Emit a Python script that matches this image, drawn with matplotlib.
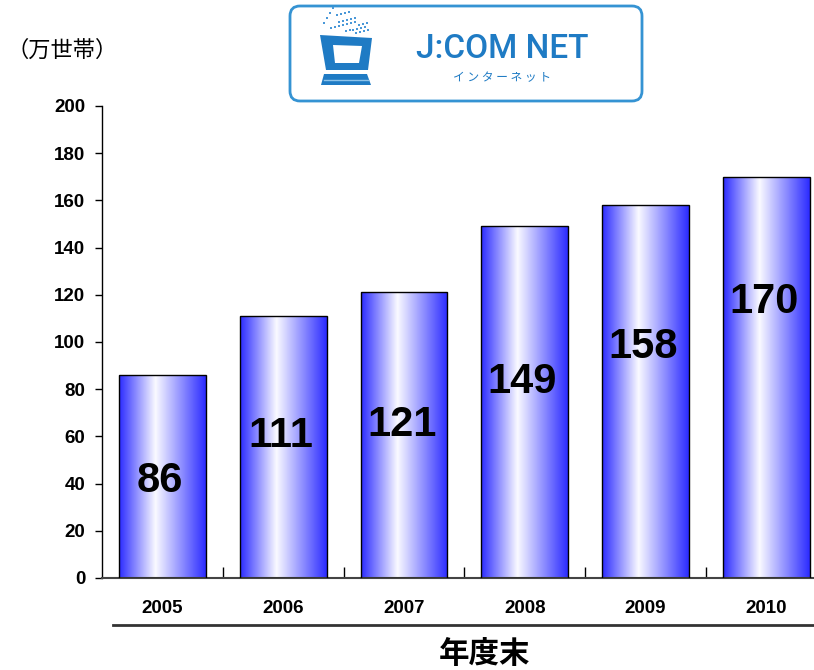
import numpy as np
import matplotlib
matplotlib.use('Agg')
import matplotlib.pyplot as plt
from matplotlib.colors import LinearSegmentedColormap
from matplotlib.patches import FancyBboxPatch, Polygon
from matplotlib.lines import Line2D

plt.rcParams['font.family'] = ['Liberation Sans', 'Noto Sans CJK JP', 'DejaVu Sans']

years = ['2005', '2006', '2007', '2008', '2009', '2010']
households = [86, 111, 121, 149, 158, 170]
# height (data units) where each value label is centred
label_y = [41, 60, 65, 83, 98, 117]

W, H = 814, 670
fig = plt.figure(figsize=(W/100, H/100), dpi=100)

# main axes, right edge runs past the figure like the original
ax = fig.add_axes([102/W, (H-578)/H, 724.8/W, 472/H])
x = np.arange(len(years))
bars = ax.bar(x, households, width=0.72, facecolor='none', edgecolor='black', linewidth=1.0, zorder=3)

blue = (0.17, 0.17, 1.0)
cmap = LinearSegmentedColormap.from_list('barblue', [(0, blue), (0.42, (0.98, 0.98, 1.0)), (1, blue)])
grad = np.linspace(0, 1, 256).reshape(1, -1)
for b in bars:
    x0, w, h = b.get_x(), b.get_width(), b.get_height()
    im = ax.imshow(grad, cmap=cmap, aspect='auto', extent=(x0, x0+w, 0, h), zorder=2, interpolation='bilinear')
    im.set_clip_path(b)

for xi, v, ly in zip(x, households, label_y):
    ax.text(xi - 0.02, ly, str(v), ha='center', va='center', fontsize=30, fontweight='bold', zorder=4)

ax.set_xlim(-0.5, len(years)-0.5)
ax.set_ylim(0, 200)
ax.set_yticks(np.arange(0, 201, 20))
ax.set_xticks(x)
ax.set_xticklabels(years, fontsize=13.5, fontweight='bold')
ax.set_xticks(np.arange(0.5, len(years)-0.5, 1), minor=True)
ax.tick_params(axis='x', which='major', length=0, pad=16)
ax.tick_params(axis='x', which='minor', direction='in', length=8, width=1)
ax.tick_params(axis='y', direction='out', length=5, width=1, labelsize=13.5, pad=7)
for lab in ax.get_yticklabels():
    lab.set_fontweight('bold')
for s in ['top', 'right']:
    ax.spines[s].set_visible(False)
ax.spines['left'].set_linewidth(1.0)
ax.spines['bottom'].set_linewidth(1.5)
ax.spines['bottom'].set_color('#444444')

# rule under the year labels
fig.add_artist(Line2D([113/W, 1.0], [(H-625)/H]*2, color='#333333', linewidth=2))
jp = ['Noto Sans CJK JP', 'DejaVu Sans']
fig.text(485/W, (H-654)/H, '年度末', ha='center', va='center', fontsize=22, fontweight='bold', family=jp)
fig.text(62/W, (H-50)/H, '（万世帯）', ha='center', va='center', fontsize=16, family=jp)

# logo drawn in pixel coordinates
lg = fig.add_axes([0, 0, 1, 1], zorder=5)
lg.set_xlim(0, W)
lg.set_ylim(H, 0)
lg.axis('off')
lg.patch.set_alpha(0)
lblue = '#3593d3'
dblue = '#1f7bc4'
lg.add_patch(FancyBboxPatch((290, 6), 352, 95, boxstyle='round,pad=0,rounding_size=10',
                            facecolor='white', edgecolor=lblue, linewidth=2))
lg.add_patch(Polygon([(320, 35), (372, 38), (368, 70), (326, 70)], closed=True,
                     facecolor=dblue, edgecolor='none'))
lg.add_patch(Polygon([(333, 45), (362, 46), (359, 63), (335, 63)], closed=True,
                     facecolor='white', edgecolor='none'))
lg.add_patch(Polygon([(324, 74), (367, 74), (371, 85), (321, 85)], closed=True,
                     facecolor=dblue, edgecolor='none'))
lg.plot([324, 368], [80, 80], color='#8cc3ea', linewidth=1)
dots_x = [333, 330, 327, 324, 337, 341, 345, 349, 339, 343, 347, 351, 355, 331, 335, 339, 343, 347,
          351, 355, 359, 363, 367, 353, 357, 361, 365, 346, 350, 356, 360, 364, 368]
dots_y = [8, 13, 18, 23, 15, 14, 13, 12, 22, 21, 20, 19, 18, 28, 27, 26, 25, 24,
          23, 22, 25, 24, 23, 30, 29, 28, 27, 31, 30, 33, 32, 31, 30]
lg.scatter(dots_x, dots_y, s=3, color='#4a98d8', marker='s', linewidths=0)
lg.text(502, 49, 'J:COM NET', ha='center', va='center', fontsize=24, color=dblue,
        family='Roboto', fontweight='medium')
lg.text(502, 78, 'イ ン タ ー ネ ッ ト', ha='center', va='center', fontsize=8.5, color=dblue, family=jp)

fig.savefig('out.png', dpi=100)
